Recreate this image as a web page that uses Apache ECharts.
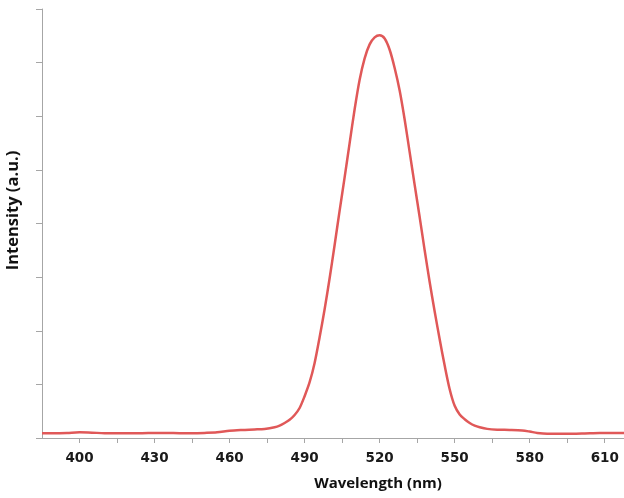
<!DOCTYPE html>
<html>
<head>
<meta charset="utf-8">
<script src="https://cdn.jsdelivr.net/npm/echarts@6/dist/echarts.min.js"></script>
<style>html,body{margin:0;padding:0;background:#fff;}#c{width:624px;height:498px;}</style>
</head>
<body>
<div id="c"></div>
<script>
const wavelength = [385,390,395,400,405,410,415,420,425,430,435,440,445,450,455,460,465,470,474,478,480,482,484,486,488,490,492,494,496,498,500,502,504,506,508,510,512,514,516,518,520,522,524,526,528,530,532,534,536,538,540,542,544,546,548,550,552,554,556,558,560,563,567,572,577,580,583,587,592,597,602,608,613,617.7];
const intensity = [0.09,0.09,0.095,0.105,0.1,0.09,0.09,0.09,0.09,0.095,0.095,0.09,0.09,0.095,0.105,0.135,0.15,0.16,0.17,0.2,0.23,0.28,0.34,0.43,0.56,0.78,1.04,1.4,1.88,2.4,2.98,3.6,4.24,4.86,5.5,6.13,6.68,7.08,7.34,7.47,7.51,7.45,7.24,6.9,6.48,5.94,5.33,4.72,4.12,3.5,2.91,2.36,1.84,1.35,0.91,0.6,0.44,0.35,0.28,0.23,0.2,0.17,0.155,0.15,0.14,0.12,0.095,0.08,0.08,0.08,0.085,0.093,0.093,0.093];
const xLabelValues = [400,430,460,490,520,550,580,610];
const xTitle = 'Wavelength (nm)';
const yTitle = 'Intensity (a.u.)';

const chart = echarts.init(document.getElementById('c'));
chart.setOption({
  animation: false,
  grid: {left: 42, right: 0, top: 9, bottom: 60, containLabel: false, outerBoundsMode: 'none'},
  xAxis: {
    type: 'value', min: 385, max: 617.7, interval: 15,
    name: xTitle, nameLocation: 'middle', nameGap: 38,
    nameTextStyle: {fontFamily: 'Open Sans', fontWeight: 'bold', fontSize: 15, color: '#111', padding: [0,0,0,90]},
    axisLine: {show: true, lineStyle: {color: '#a6a6a6', width: 1}},
    axisTick: {show: true, inside: false, length: 5, lineStyle: {color: '#a6a6a6'}},
    axisLabel: {
      margin: 13, fontFamily: 'DejaVu Sans', fontWeight: 'bold', fontSize: 13.5, color: '#1a1a1a',
      showMinLabel: false, showMaxLabel: false,
      formatter: function (v) { return xLabelValues.indexOf(Math.round(v)) >= 0 && Math.abs(v - Math.round(v)) < 1e-6 ? String(Math.round(v)) : ''; }
    },
    splitLine: {show: false}
  },
  yAxis: {
    type: 'value', min: 0, max: 8, interval: 1,
    name: yTitle, nameLocation: 'middle', nameGap: 20,
    nameTextStyle: {fontFamily: 'Open Sans', fontWeight: 'bold', fontSize: 16.5, color: '#111', padding: [0,0,0,26]},
    axisLine: {show: true, lineStyle: {color: '#a6a6a6', width: 1}},
    axisTick: {show: true, inside: false, length: 6, lineStyle: {color: '#a6a6a6'}},
    axisLabel: {show: false},
    splitLine: {show: false}
  },
  series: [{
    type: 'line',
    data: wavelength.map((w, i) => [w, intensity[i]]),
    smooth: 0.3,
    showSymbol: false,
    lineStyle: {color: '#e05858', width: 2.5}
  }]
});
</script>
</body>
</html>
